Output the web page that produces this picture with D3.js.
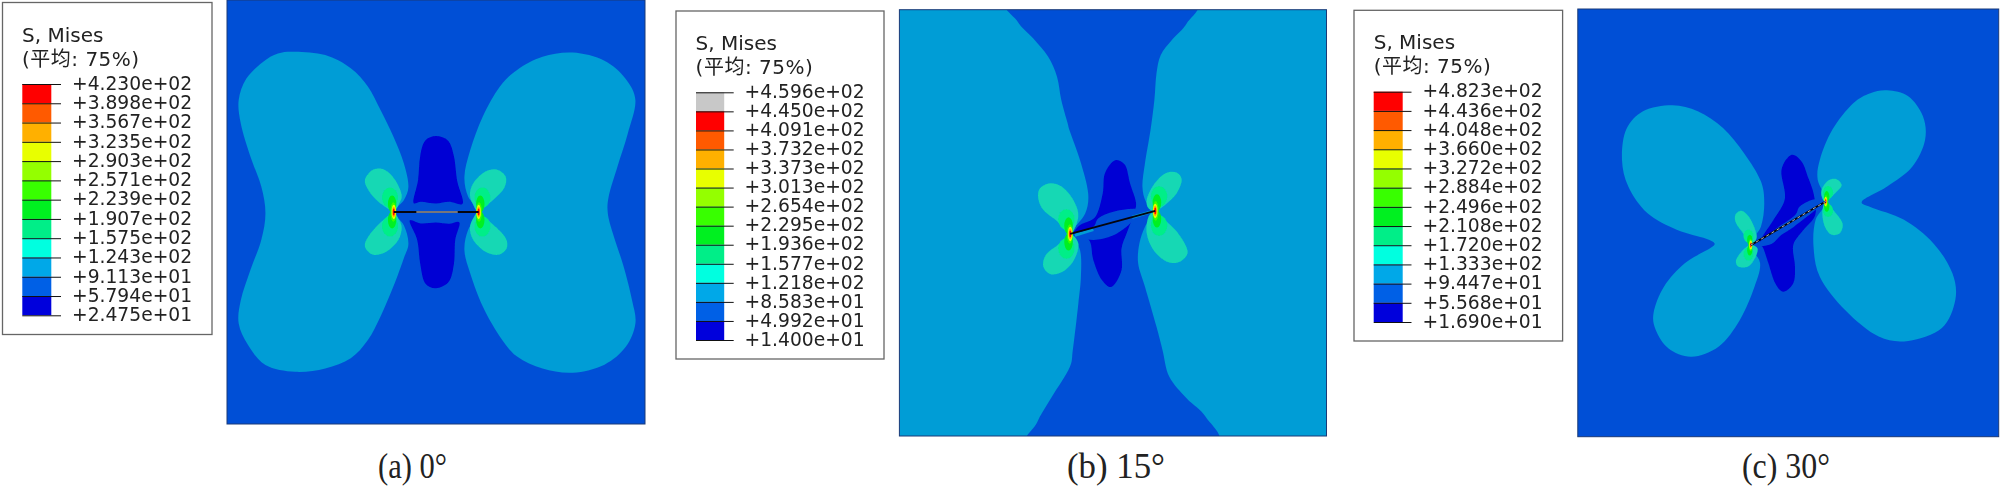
<!DOCTYPE html>
<html>
<head>
<meta charset="utf-8">
<script src="https://cdn.jsdelivr.net/npm/d3@7"></script>
<style>
  html, body { margin: 0; padding: 0; background: #fff; }
  svg { display: block; }
  .legend text { font-family: "DejaVu Sans", "Noto Sans CJK SC", sans-serif; fill: #222; }
  .caption { font-family: "Liberation Serif", serif; font-size: 35px; fill: #222; }
</style>
</head>
<body>
<svg id="chart" width="2000" height="486"></svg>
<script>
// legend tick labels
var labelsA = ["+4.230e+02","+3.898e+02","+3.567e+02","+3.235e+02","+2.903e+02","+2.571e+02","+2.239e+02","+1.907e+02","+1.575e+02","+1.243e+02","+9.113e+01","+5.794e+01","+2.475e+01"]
var labelsB = ["+4.596e+02","+4.450e+02","+4.091e+02","+3.732e+02","+3.373e+02","+3.013e+02","+2.654e+02","+2.295e+02","+1.936e+02","+1.577e+02","+1.218e+02","+8.583e+01","+4.992e+01","+1.400e+01"]
var labelsC = ["+4.823e+02","+4.436e+02","+4.048e+02","+3.660e+02","+3.272e+02","+2.884e+02","+2.496e+02","+2.108e+02","+1.720e+02","+1.333e+02","+9.447e+01","+5.568e+01","+1.690e+01"]

// contour bands, hottest first
var bandColors = ["#ff0000","#ff5a00","#ffb000","#e8ff00","#94ff00","#38ff00","#00f020","#00ee88","#00ffe0","#00a8e8","#0060e6","#0000dc"]
var overColor = "#c8c8c8"

// contours in percent of its width and height
var aLobeL = [[16.3,12.2],[23.5,13],[29.6,16.1],[33.7,20.4],[36.7,25.9],[39.8,32.2],[42.3,38.5],[43.4,44],[42.3,47.2],[39.9,50],[42.3,53.1],[43.4,57.4],[42.3,60.9],[39.8,67.6],[36.7,74.7],[33.7,80.2],[29.6,84.5],[23.5,86.9],[16.3,87.7],[9.2,86.1],[5,81.3],[2.8,76.3],[3.3,70.8],[5.6,63.7],[8.2,56.6],[9.2,50.3],[8.2,44],[5.6,36.9],[3.3,29.1],[2.8,23.6],[4.6,18.6],[8.6,14.6],[12.2,12.6]]
var aLobeR = [[82.7,12.4],[90.3,14.3],[95.3,18.5],[97.7,23.6],[95.9,31.4],[93.4,39.3],[91.3,46.4],[91.1,50.3],[92.3,55],[94.9,62.9],[96.9,70.8],[97.7,76.3],[95.4,81.8],[90.3,86],[82.7,87.9],[75.5,86.9],[69.4,84.1],[65.3,79.4],[61.2,72.3],[58.2,64.5],[56.8,59],[57.7,54.2],[60.2,50],[57.7,46.4],[56.8,41.7],[58.2,35.4],[61.2,27.5],[65.3,20.4],[69.4,16.5],[75.5,13.4]]
var aDarkTop = [[50,32.1],[52.9,33.2],[54.3,36.9],[55.1,42.8],[56.4,48],[53.1,47.6],[50,48],[46.4,47.6],[44.6,47.8],[45.7,42.5],[46.2,36.9],[47.4,33.2]]
var aDarkBot = [[50,68],[53.1,66.4],[54.3,62.1],[54.6,56.6],[55.6,52.5],[53.1,52.8],[50,52.5],[46.4,52.7],[43.7,52],[45.5,56.6],[46.2,62.1],[47.4,66.8]]
var aTipUL = [[39.8,49.7],[36.2,47.6],[33.8,44.8],[33,42.4],[35,40],[37.8,40.1],[40.2,42.4],[41.8,46],[41.2,48]]
var aTipLL = [[39.8,50.3],[36.6,52.6],[33.8,55.8],[33,58.2],[35,60.1],[38.2,59.3],[41,56.6],[41.8,53.8],[41.2,51.9]]
var aTipUR = [[60.1,49.7],[63.6,47.2],[66.3,44.4],[66.7,41.7],[64.5,40],[61.7,40.5],[58.9,43.2],[58.1,46],[58.9,48.3]]
var aTipLR = [[60.1,50.3],[63.6,52.9],[66.7,56.2],[66.9,58.6],[64.9,60.1],[61.7,59.3],[58.9,56.6],[58.1,53.8],[58.9,51.5]]
var aCrack = [[39.9,50],[60.2,50]]
var aCrackMark = [[45.3,50],[55.2,50]]

var bBand = [[26,-2],[68.7,-2],[67.3,3.2],[63.8,7.1],[61.2,10.6],[60.2,14.9],[59.7,21.2],[58.8,28.2],[57.5,36],[56.9,41.5],[57.7,45],[59.6,47],[57.5,50.9],[56.2,54.8],[55.9,59.5],[57.5,65],[60.2,74.4],[61.6,79.8],[63.2,86.1],[67.3,91.2],[71.7,95.5],[73.6,102],[31,102],[32.2,96.9],[35.7,90.8],[39.9,83.8],[40.6,79.8],[41.9,68.9],[42.5,62.6],[42.3,56.4],[40.3,52.6],[43.5,47.8],[44.2,43.1],[42.3,35.3],[39.8,28.2],[39.4,26.7],[37.9,21.2],[36.9,15.7],[34.8,11],[31.3,6.7],[27.7,2.8]]
var bDark = [[50.5,35.3],[52.8,36.4],[54,40.7],[55.4,45.3],[54.9,47.8],[53.2,52.5],[52,56],[52,61.1],[49.7,65],[47.4,63.4],[45.4,58.7],[44.6,54.4],[42.3,52.1],[40.6,52.6],[42.3,50.5],[45.8,48.7],[47.6,43.1],[48.1,38.4]]
var bMid = [[41.1,53.1],[45.4,54],[49.7,53.1],[53.2,50.9],[55.6,48.7],[59.1,47.4],[54.8,46.7],[50.1,47.4],[46.6,48.9],[45.4,50.9]]
var bTipUL = [[40,52.6],[37,49.7],[33.7,47],[32.5,44.2],[32.9,41.9],[35.3,40.7],[38,41.5],[40.7,44.6],[41.9,48.5]]
var bTipLL = [[40,52.6],[37.6,54.8],[34.3,57.5],[33.7,60.3],[35.6,62.1],[38.8,61.1],[41.1,58.3],[41.9,54.8]]
var bTipUR = [[59.9,47.2],[62.2,45.8],[64.9,43.1],[66.1,39.9],[64.9,38.2],[62.2,38.4],[59.5,41.1],[57.9,44.6],[58.3,46.6]]
var bTipLR = [[59.9,47.2],[61.8,49],[65.3,52.5],[67.5,56.8],[65.7,59.1],[62.6,59.1],[59.5,56.4],[57.9,52.5],[58.3,48.6]]
var bCrack = [[40,52.6],[59.9,47.2]]
var bStrips = [[[41.1,52.9],[45.4,51.6]],[[54.5,48.7],[59.3,47.3]]]

var cLobeL = [[22.5,22.5],[28.5,23.9],[34.5,27.8],[39.5,33.7],[43.5,40.3],[44.3,45.4],[43.5,50.9],[41,55.1],[43.3,59.4],[42,64.9],[38.5,72.7],[33.5,78.9],[27,81.3],[21.5,79.3],[18.5,75],[18,71.1],[20.5,64.9],[25.5,59.4],[31.5,55.9],[32.5,54.8],[30.5,53.7],[23.5,51.6],[16.5,47.7],[12,41.5],[10.5,35.3],[11.5,28.2],[15.5,23.9]]
var cLobeR = [[73.5,19],[78.5,20.4],[82,25.1],[82.5,30.6],[79.5,36.8],[73.5,41.5],[67.5,45],[69.5,46.3],[77.5,49.3],[84.5,54.8],[89,61.8],[89.7,68],[86.5,74.6],[78.5,77.6],[71.5,76.6],[63.5,70.4],[57.5,62.6],[56,55.5],[56.5,49.3],[59,45],[57,39.9],[57.5,35.3],[60.5,28.2],[65.5,22],[69.5,19.7]]
var cDark = [[50.8,34.1],[53.2,35.7],[54.8,39.6],[56.1,43.5],[56.4,48.2],[53.6,51.7],[51.2,55.2],[51.6,60.2],[51.2,64.1],[48.8,66.1],[46.9,64.1],[45.3,59.5],[44.1,56],[43.3,54.4],[46.5,49.3],[49.2,44.3],[48.4,37.6]]
var cMid = [[43.1,55.4],[46.1,54.9],[48.4,52.8],[51.2,51],[54.4,48.6],[57.1,46.4],[58.3,45.3],[56.4,44.5],[52.8,46.1],[51.6,48.2],[47.2,51.3],[43.3,54.4]]
var cTipUL = [[41.1,55.2],[39.3,52.5],[37.6,50.1],[37.4,48.2],[38.9,47.2],[40.9,48.9],[42.5,52.8],[42.1,54.4]]
var cTipLL = [[41.1,55.2],[39.3,56.3],[37.6,58.7],[38.1,60.2],[40.5,60.2],[42.1,58.3],[42.7,56]]
var cTipUR = [[58.9,45],[61.5,42.7],[62.7,41.2],[61.5,39.8],[59.5,40.1],[57.9,42.3],[58.1,44.3]]
var cTipLR = [[58.9,45],[60.7,47],[62.9,50.1],[62.3,52.4],[60.3,52.8],[58.7,50.9],[58.1,47.4]]
var cCrack = [[41.1,55.2],[58.9,45]]

// rings round a crack tip: offset along and across the plate, radii, band index
var tipRings = [[0.9,-3.4,1.9,2.4,7],[0.9,3.4,1.9,2.4,7],[0.4,-1.9,1,2,6],[0.4,1.9,1,2,6],[0.1,0,0.7,2.3,5],[0,0,0.55,1.7,3],[0,0,0.4,1.2,2],[0,0,0.22,0.8,0]]

var plateLight = "#009dd6"
var plateMid = "#0050d6"
var plateDark = "#0000d4"
var tipLobe = "#12d8b4"

var panels = [
  { labels: labelsA, over: false, box: [2.5,2.5,209.5,332], bar: [22.3,51.3,84,315.3], tick: 61, text: 72,
    titleX: 22, plate: [227,645,0,424], base: plateMid, caption: "(a) 0°", capX: 378, capW: 69, ringScale: 1,
    fills: [[aLobeL,plateLight],[aLobeR,plateLight],[aDarkTop,plateDark],[aDarkBot,plateDark],[aTipUL,tipLobe],[aTipLL,tipLobe],[aTipUR,tipLobe],[aTipLR,tipLobe]],
    crack: aCrack, strips: [], mark: aCrackMark, markColor: "#e8e8e8", markDash: null },
  { labels: labelsB, over: true, box: [676,11,208,348], bar: [696,724.2,92.3,340], tick: 733.7, text: 744.5,
    titleX: 695.6, plate: [899.4,1326.5,9.7,436], base: plateLight, caption: "(b) 15°", capX: 1067, capW: 98, ringScale: 1,
    fills: [[bBand,plateMid],[bDark,plateDark],[bMid,plateMid],[bTipUL,tipLobe],[bTipLL,tipLobe],[bTipUR,tipLobe],[bTipLR,tipLobe]],
    crack: bCrack, strips: bStrips, mark: null },
  { labels: labelsC, over: false, box: [1354,10.3,208.6,330.7], bar: [1373.7,1402.7,91.7,322], tick: 1411.5, text: 1422.5,
    titleX: 1373.7, plate: [1577.8,1998.7,9,436.7], base: plateMid, caption: "(c) 30°", capX: 1742, capW: 88, ringScale: 0.62,
    fills: [[cLobeL,plateLight],[cLobeR,plateLight],[cDark,plateDark],[cMid,plateMid],[cTipUL,tipLobe],[cTipLL,tipLobe],[cTipUR,tipLobe],[cTipLR,tipLobe]],
    crack: cCrack, strips: [], mark: cCrack, markColor: "#b8b8b8", markDash: "3 3" }
]

var svg = d3.select("#chart")
var defs = svg.append("defs")
defs.append("filter").attr("id", "soft").append("feGaussianBlur").attr("stdDeviation", 0.6)
defs.append("filter").attr("id", "softText").append("feGaussianBlur").attr("stdDeviation", 0.3)

panels.forEach(function(p, i) {
  drawLegend(p)
  drawPlate(p, i)
  svg.append("text").attr("class", "caption")
    .attr("x", p.capX).attr("y", 478)
    .attr("textLength", p.capW)
    .attr("lengthAdjust", "spacingAndGlyphs")
    .text(p.caption)
})

function drawLegend(p) {
  var g = svg.append("g").attr("class", "legend")
  g.append("rect")
    .attr("x", p.box[0]).attr("y", p.box[1])
    .attr("width", p.box[2]).attr("height", p.box[3])
    .attr("fill", "#fff").attr("stroke", "#666").attr("stroke-width", 1.3)

  var t = g.append("g").attr("filter", "url(#softText)")
  t.append("text").attr("x", p.titleX).attr("y", p.box[1] + 39)
    .style("font-size", "20px").text("S, Mises")
  t.append("text").attr("x", p.titleX).attr("y", p.box[1] + 63)
    .style("font-size", "20px").style("letter-spacing", "0.5px").text("(平均: 75%)")

  var y = d3.scalePoint().domain(p.labels).range([p.bar[2], p.bar[3]])
  var colors = p.over ? [overColor].concat(bandColors) : bandColors

  g.selectAll("rect.seg")
    .data(colors)
    .enter().append("rect")
      .attr("class", "seg")
      .attr("x", p.bar[0])
      .attr("y", function(d, k) { return y(p.labels[k]) })
      .attr("width", p.bar[1] - p.bar[0])
      .attr("height", y.step())
      .attr("fill", function(d) { return d })

  var axis = d3.axisRight(y)
    .tickSize(p.tick - p.bar[0])
    .tickPadding(p.text - p.tick)
  var ag = g.append("g")
    .attr("transform", "translate(" + p.bar[0] + ",0)")
    .call(axis)
  ag.select(".domain").remove()
  ag.selectAll("line").attr("stroke", "#111").attr("stroke-width", 1)
  ag.selectAll("text").attr("dy", "0.28em").style("font-size", "18.7px").attr("font-family", null)
    .attr("filter", "url(#softText)")
}

function drawPlate(p, i) {
  var x = d3.scaleLinear().domain([0, 100]).range([p.plate[0], p.plate[1]])
  var y = d3.scaleLinear().domain([0, 100]).range([p.plate[2], p.plate[3]])
  var id = "plate" + i

  defs.append("clipPath").attr("id", id).append("rect")
    .attr("x", x(0)).attr("y", y(0))
    .attr("width", x(100) - x(0)).attr("height", y(100) - y(0))

  var outline = d3.line()
    .x(function(d) { return x(d[0]) })
    .y(function(d) { return y(d[1]) })
    .curve(d3.curveCatmullRomClosed.alpha(0.2))
  var straight = d3.line()
    .x(function(d) { return x(d[0]) })
    .y(function(d) { return y(d[1]) })

  var g = svg.append("g").attr("clip-path", "url(#" + id + ")")
  var inner = g.append("g").attr("filter", "url(#soft)")

  inner.append("rect")
    .attr("x", x(0) - 2).attr("y", y(0) - 2)
    .attr("width", x(100) - x(0) + 4).attr("height", y(100) - y(0) + 4)
    .attr("fill", p.base)

  inner.selectAll("path.band")
    .data(p.fills)
    .enter().append("path")
      .attr("class", "band")
      .attr("d", function(d) { return outline(d[0]) })
      .attr("fill", function(d) { return d[1] })

  inner.selectAll("path.strip")
    .data(p.strips)
    .enter().append("path")
      .attr("class", "strip")
      .attr("d", function(d) { return straight(d) })
      .attr("stroke", plateLight).attr("stroke-width", 3).attr("fill", "none")

  // hot rings at both ends of the crack
  p.crack.forEach(function(tip, t) {
    var side = t == 0 ? -1 : 1
    var k = p.ringScale
    inner.selectAll("ellipse.ring" + t)
      .data(tipRings)
      .enter().append("ellipse")
        .attr("class", "ring" + t)
        .attr("cx", function(d) { return x(tip[0] + side * d[0] * k) })
        .attr("cy", function(d) { return y(tip[1] + d[1] * k) })
        .attr("rx", function(d) { return x(d[2] * k) - x(0) })
        .attr("ry", function(d) { return y(d[3] * k) - y(0) })
        .attr("fill", function(d) { return bandColors[d[4]] })
  })

  g.append("path").attr("d", straight(p.crack))
    .attr("stroke", "#05050f").attr("stroke-width", 1.9).attr("fill", "none")
  if (p.mark) {
    g.append("path").attr("d", straight(p.mark))
      .attr("stroke", p.markColor).attr("stroke-width", 1).attr("fill", "none")
      .attr("stroke-dasharray", p.markDash)
  }

  svg.append("rect")
    .attr("x", x(0)).attr("y", y(0))
    .attr("width", x(100) - x(0)).attr("height", y(100) - y(0))
    .attr("fill", "none").attr("stroke", "#1a3a78").attr("stroke-width", 1)
}
</script>
</body>
</html>
